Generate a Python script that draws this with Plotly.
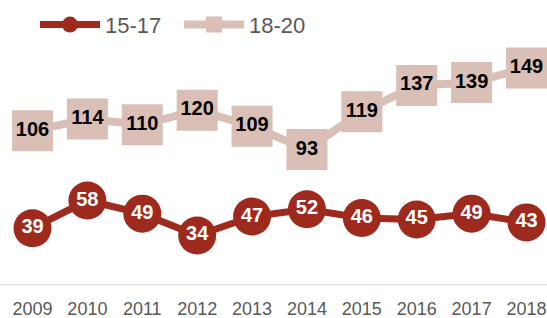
import plotly.graph_objects as go

years = ["2009", "2010", "2011", "2012", "2013", "2014", "2015", "2016", "2017", "2018"]
series_15_17 = [39, 58, 49, 34, 47, 52, 46, 45, 49, 43]
series_18_20 = [106, 114, 110, 120, 109, 93, 119, 137, 139, 149]

red = "#9E2A1E"
pink = "#D9BFB5"

W, H = 547, 318
fig = go.Figure()
fig.add_trace(go.Scatter(
    x=list(range(len(years))), y=series_15_17, name="15-17",
    mode="lines+markers+text",
    line=dict(color=red, width=7),
    marker=dict(symbol="circle", size=38, color=red),
    text=[str(v) for v in series_15_17], textposition="middle center",
    textfont=dict(family="Liberation Sans", size=20, color="white", weight="bold"),
    cliponaxis=False,
))
fig.add_trace(go.Scatter(
    x=list(range(len(years))), y=series_18_20, name="18-20",
    mode="lines+markers+text",
    line=dict(color=pink, width=8),
    marker=dict(symbol="square", size=41, color=pink),
    text=[str(v) for v in series_18_20], textposition="middle center",
    textfont=dict(family="Liberation Sans", size=20, color="black", weight="bold"),
    cliponaxis=False,
))

x0_px, x9_px = 32.5, 526.5
px_per = (x9_px - x0_px) / 9
fig.update_layout(
    width=W, height=H,
    margin=dict(l=0, r=0, t=52, b=33),
    paper_bgcolor="white", plot_bgcolor="white",
    showlegend=True,
    legend=dict(orientation="h", x=35 / W, y=0.988, yanchor="top", xanchor="left",
                yref="container", font=dict(family="Liberation Sans", size=22, color="#595959"),
                itemwidth=60, traceorder="normal", itemsizing="trace",
                entrywidth=69, entrywidthmode="pixels"),
    xaxis=dict(
        tickmode="array", tickvals=list(range(len(years))), ticktext=years,
        range=[-x0_px / px_per, (W - x0_px) / px_per],
        showgrid=False, zeroline=False, showline=False,
        ticklabelstandoff=11,
        tickfont=dict(family="Liberation Sans", size=18, color="#595959"),
    ),
    yaxis=dict(range=[0, 160], visible=False, showgrid=False, zeroline=False),
    shapes=[dict(type="line", xref="paper", yref="y", x0=0, x1=1, y0=0, y1=0,
                 line=dict(color="#D9D9D9", width=2), layer="below")],
)
fig.write_html("out.html", config={"displayModeBar": False},
               post_script="document.body.style.margin='0';document.body.style.overflow='hidden';")
